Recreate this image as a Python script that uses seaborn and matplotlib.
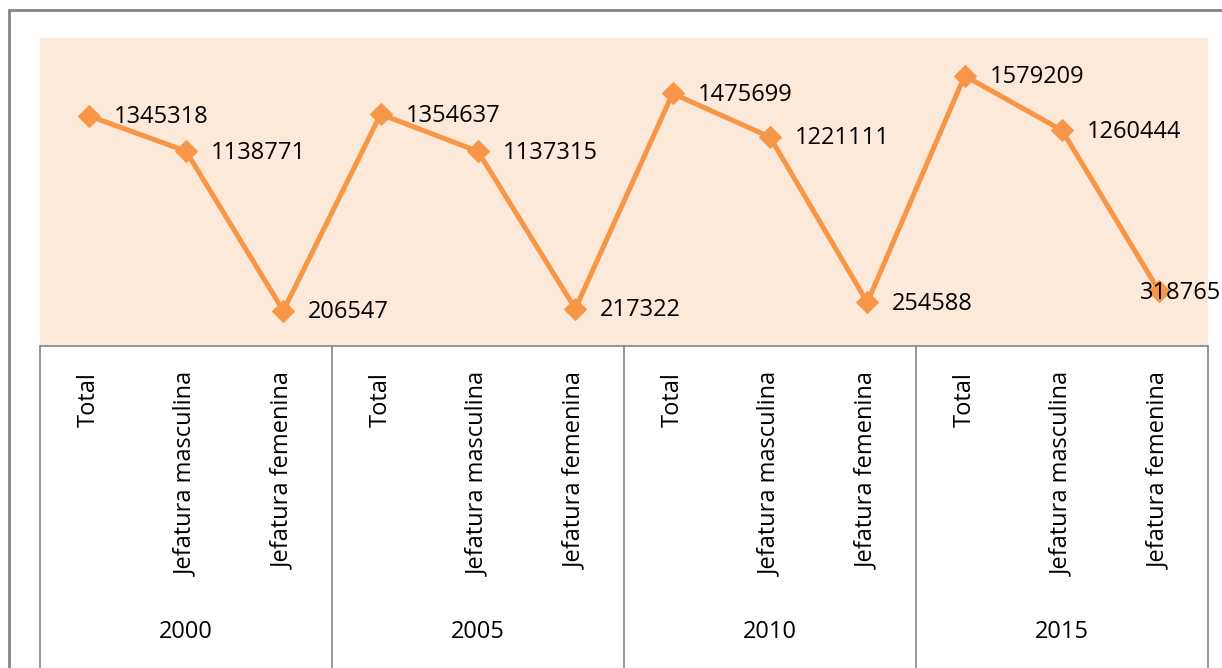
import matplotlib
matplotlib.use("Agg")
import matplotlib.pyplot as plt
import matplotlib.transforms as mtransforms
import pandas as pd
import seaborn as sns

# --- DATOS ---
years = ["2000", "2005", "2010", "2015"]
tipos = ["Total", "Jefatura masculina", "Jefatura femenina"]
hogares = [1345318, 1138771, 206547,
           1354637, 1137315, 217322,
           1475699, 1221111, 254588,
           1579209, 1260444, 318765]

rows = []
for i, y in enumerate(years):
    for j, t in enumerate(tipos):
        rows.append({"anio": y, "tipo": t, "hogares": hogares[i * len(tipos) + j]})
df = pd.DataFrame(rows)
df["pos"] = range(len(df))

ORANGE = "#F79646"
FILL = "#FDE9D9"
GRID = "#868686"
FS = 17

sns.set_theme(style="white")
plt.rcParams["font.family"] = ["Open Sans", "DejaVu Sans"]

W, H = 1222, 668
fig = plt.figure(figsize=(W / 100, H / 100), dpi=100)

# area del grafico (en pixeles de la referencia)
left, right, top, bottom = 40, 1208, 38, 346
ax = fig.add_axes([left / W, 1 - bottom / H, (right - left) / W, (bottom - top) / H])
ax.set_facecolor(FILL)

sns.lineplot(data=df, x="pos", y="hogares", ax=ax, color=ORANGE, linewidth=3.6,
             marker="D", markersize=11, markeredgecolor=ORANGE, markerfacecolor=ORANGE)

ax.set_xlim(-0.5, len(df) - 0.5)
ax.set_ylim(0, 1800000)
ax.set_xticks([])
ax.set_yticks([])
ax.set_xlabel("")
ax.set_ylabel("")
for s in ax.spines.values():
    s.set_visible(False)

# etiquetas de datos
for k, r in df.iterrows():
    dx = -14 if k == len(df) - 1 else 18
    ax.annotate(f"{r['hogares']}", (r["pos"], r["hogares"]), xytext=(dx, -1),
                textcoords="offset points", ha="left", va="center",
                fontsize=FS, color="black", annotation_clip=False)

# eje de categorias (tabla inferior)
trans = mtransforms.blended_transform_factory(ax.transData, ax.transAxes)
ax_h = bottom - top
y_bot = -(H - bottom) / ax_h
ax.plot([-0.5, len(df) - 0.5], [0, 0], transform=trans, color=GRID, lw=1.2, clip_on=False)
for g in range(len(years) + 1):
    xg = g * len(tipos) - 0.5
    ax.plot([xg, xg], [0, y_bot], transform=trans, color=GRID, lw=1.2, clip_on=False)

for k, r in df.iterrows():
    ax.text(r["pos"], -(372 - bottom) / ax_h, r["tipo"], transform=trans, rotation=90,
            ha="center", va="top", fontsize=FS, color="black")
for i, y in enumerate(years):
    ax.text(i * len(tipos) + 1, -(632 - bottom) / ax_h, y, transform=trans,
            ha="center", va="center", fontsize=FS, color="black")

# borde exterior del grafico
fig.add_artist(plt.Line2D([9 / W, 9 / W], [0, 1 - 10 / H], color=GRID, lw=2))
fig.add_artist(plt.Line2D([9 / W, 1], [1 - 10 / H, 1 - 10 / H], color=GRID, lw=2))

fig.savefig("out.png", dpi=100)
plt.close(fig)
